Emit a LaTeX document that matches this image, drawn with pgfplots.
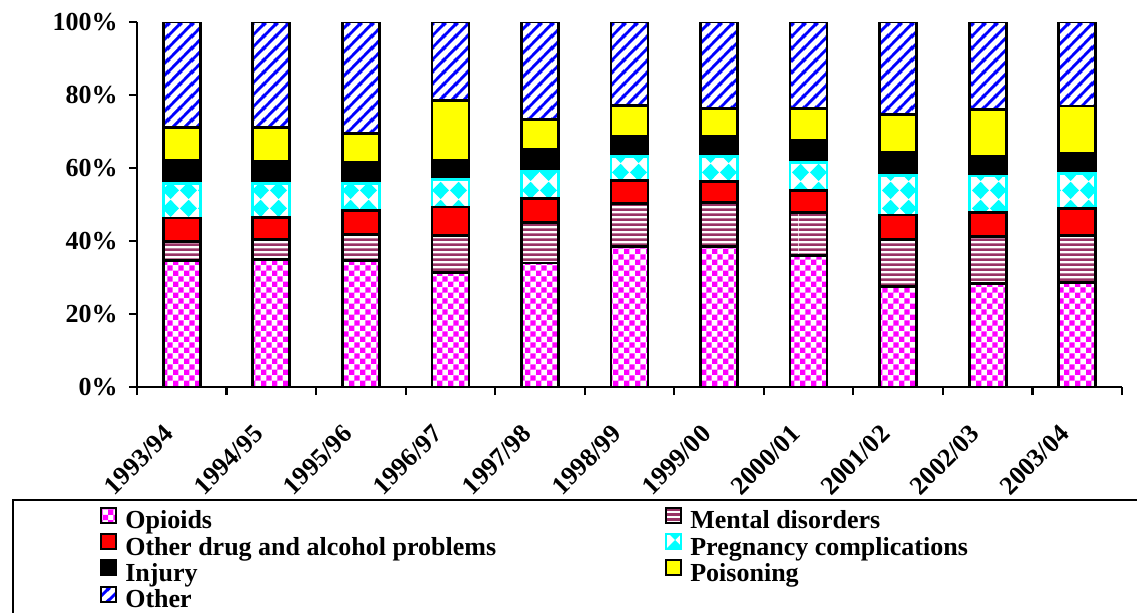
\documentclass[border=0pt]{standalone}
\usepackage{fontspec}
\setmainfont{LiberationSerif}[Extension=.ttf, UprightFont=*-Regular, BoldFont=*-Bold, ItalicFont=*-Italic, BoldItalicFont=*-BoldItalic]
\usepackage{pgfplots}
\usepackage{pgfplotstable}
\pgfplotsset{compat=1.18}
\usetikzlibrary{patterns.meta}

\definecolor{opiMag}{RGB}{255,0,255}
\definecolor{menMaroon}{RGB}{153,51,102}
\definecolor{drugRed}{RGB}{255,0,0}
\definecolor{pregCyan}{RGB}{0,255,255}
\definecolor{poisYellow}{RGB}{255,255,0}
\definecolor{othBlue}{RGB}{0,0,255}

% fill patterns (tile sizes)
\tikzdeclarepattern{
  name=checks, type=uncolored,
  bounding box={(0pt,0pt) and (5.4pt,5.4pt)},
  tile size={(5.4pt,5.4pt)},
  code={
    \pgfpathrectangle{\pgfpointorigin}{\pgfpoint{2.7pt}{2.7pt}}
    \pgfpathrectangle{\pgfpoint{2.7pt}{2.7pt}}{\pgfpoint{2.7pt}{2.7pt}}
    \pgfusepath{fill}
  }
}
% wide tile so no seams show inside a bar
\tikzdeclarepattern{
  name=hstripes, type=uncolored,
  bounding box={(0pt,0pt) and (200pt,2.4pt)},
  tile size={(200pt,2.4pt)},
  code={
    \pgfpathrectangle{\pgfpointorigin}{\pgfpoint{200pt}{1.3pt}}
    \pgfusepath{fill}
  }
}
\tikzdeclarepattern{
  name=diag, type=uncolored,
  bounding box={(0pt,0pt) and (6pt,6pt)},
  tile size={(6pt,6pt)},
  code={
    \pgfsetlinewidth{1.5pt}
    \pgfpathmoveto{\pgfpoint{-1pt}{-1pt}}\pgfpathlineto{\pgfpoint{7pt}{7pt}}
    \pgfpathmoveto{\pgfpoint{-1pt}{5pt}}\pgfpathlineto{\pgfpoint{1pt}{7pt}}
    \pgfpathmoveto{\pgfpoint{5pt}{-1pt}}\pgfpathlineto{\pgfpoint{7pt}{1pt}}
    \pgfusepath{stroke}
  }
}
\tikzdeclarepattern{
  name=diamonds, type=uncolored,
  bounding box={(0pt,0pt) and (9pt,9pt)},
  tile size={(9pt,9pt)},
  code={
    \pgfpathmoveto{\pgfpoint{4.5pt}{0pt}}
    \pgfpathlineto{\pgfpoint{9pt}{4.5pt}}
    \pgfpathlineto{\pgfpoint{4.5pt}{9pt}}
    \pgfpathlineto{\pgfpoint{0pt}{4.5pt}}
    \pgfpathclose
    \pgfusepath{fill}
  }
}

% shares (%) per year, bottom to top
\pgfplotstableread{
x    opi  men  drug preg inj  pois oth
0.5  34.7 5.1  6.5  9.5  6.3  9.1  28.8
1.5  34.9 5.5  6.1  9.2  6.2  9.3  28.8
2.5  34.6 7.2  6.6  7.4  5.6  8.1  30.5
3.5  31.4 10.1 7.8  7.6  5.3  16.3 21.5
4.5  34.0 11.1 6.5  7.6  5.9  8.2  26.7
5.5  38.6 11.6 6.4  6.5  5.6  8.5  22.8
6.5  38.6 11.9 5.7  6.9  5.6  7.7  23.6
7.5  36.0 11.7 6.2  7.5  6.2  8.7  23.7
8.5  27.6 12.8 6.7  10.9 6.4  10.3 25.3
9.5  28.3 13.0 6.6  9.9  5.4  12.9 23.9
10.5 28.7 12.8 7.4  9.7  5.3  13.1 23.0
}\shares

\begin{document}
\begin{tikzpicture}
\begin{axis}[
    at={(0,0)}, anchor=south west,
    scale only axis,
    width=492.5pt, height=182.5pt,
    ybar stacked, bar width=18.5pt,
    xmin=0, xmax=11, ymin=0, ymax=100,
    axis x line*=bottom, axis y line*=left,
    axis line style={line width=1.2pt},
    tick align=outside,
    major tick length=4pt,
    tick style={line width=1.1pt, black},
    tick label style={font=\fontsize{13}{15}\selectfont\bfseries},
    xtick={0,1,...,11}, xticklabels={},
    extra x ticks={0.5,1.5,2.5,3.5,4.5,5.5,6.5,7.5,8.5,9.5,10.5},
    extra x tick labels={1993/94,1994/95,1995/96,1996/97,1997/98,1998/99,1999/00,2000/01,2001/02,2002/03,2003/04},
    extra x tick style={major tick length=0pt},
    x tick label style={xshift=-9.5pt, yshift=-18pt, rotate=45, anchor=north east, inner sep=0pt},
    ytick={0,20,...,100},
    yticklabels={0\%,20\%,40\%,60\%,80\%,100\%},
    y tick label style={anchor=east, inner xsep=0pt, xshift=-5.5pt},
    legend columns=2,
    legend cell align=left,
    legend style={at={(-0.0376,-0.3266)}, anchor=north west, draw=none, fill=none,
        inner sep=0pt, row sep=-1.3pt,
        font=\fontsize{13}{15}\selectfont\bfseries,
        nodes={inner ysep=0pt, inner xsep=4pt, text height=9.5pt, text depth=3.5pt}},
    legend image code/.code={\draw[#1,/tikz/.cd,line width=1pt] (0pt,0pt) rectangle (7.5pt,7.5pt);},
]
\addplot[draw=black, line width=1.4pt, pattern=checks, pattern color=opiMag] table[x=x,y=opi] {\shares};
\addlegendentry{\makebox[266pt][l]{Opioids}}
\addplot[draw=black, line width=1.4pt, pattern=hstripes, pattern color=menMaroon] table[x=x,y=men] {\shares};
\addlegendentry{Mental disorders}
\addplot[draw=black, line width=1.4pt, fill=drugRed] table[x=x,y=drug] {\shares};
\addlegendentry{\makebox[266pt][l]{Other drug and alcohol problems}}
\addplot[draw=pregCyan, line width=1.4pt, pattern=diamonds, pattern color=pregCyan] table[x=x,y=preg] {\shares};
\addlegendentry{Pregnancy complications}
\addplot[draw=black, line width=1.4pt, fill=black] table[x=x,y=inj] {\shares};
\addlegendentry{\makebox[266pt][l]{Injury}}
\addplot[draw=black, line width=1.4pt, fill=poisYellow] table[x=x,y=pois] {\shares};
\addlegendentry{Poisoning}
\addplot[draw=black, line width=1.4pt, pattern=diag, pattern color=othBlue] table[x=x,y=oth] {\shares};
\addlegendentry{\makebox[266pt][l]{Other}}
\end{axis}
% frame round the legend, cut by the page edge on the right and bottom
\draw[line width=1pt] (-62pt,-125pt) rectangle (510pt,-56.5pt);
\pgfresetboundingbox
\useasboundingbox (-68.5pt,-112.5pt) rectangle (500pt,193.5pt);
\end{tikzpicture}
\end{document}
